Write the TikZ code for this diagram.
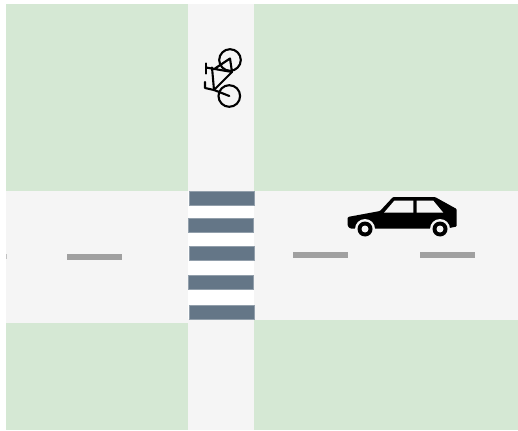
\documentclass[tikz,border=0pt]{standalone}
\definecolor{grass}{HTML}{D5E8D4}
\definecolor{road}{HTML}{F5F5F5}
\definecolor{zebra}{HTML}{647687}
\definecolor{lane}{HTML}{A0A0A0}
\tikzset{
  grassarea/.style={fill=grass,draw=none},
  roadarea/.style={fill=road,draw=none},
  zebrabar/.style={fill=zebra,draw=zebra!70!white,line width=0.5pt},
  lanemark/.style={fill=lane,draw=none},
  bikeline/.style={draw=black,line width=2.1pt,line cap=round,line join=round},
}
\begin{document}
\begin{tikzpicture}[x=1pt,y=-1pt]
\useasboundingbox (0,0) rectangle (518,430);
\fill[white] (0,0) rectangle (518,430);
% grass
\fill[grassarea] (6,4) rectangle (188,191);
\fill[grassarea] (254,4) rectangle (518,191);
\fill[grassarea] (6,323) rectangle (188,430);
\fill[grassarea] (254,320) rectangle (518,430);
% roads
\fill[roadarea] (6,191) rectangle (188,323);
\fill[roadarea] (254,191) rectangle (518,320);
\fill[roadarea] (188,4) rectangle (254,430);
% crossing
\fill[white] (188,191) rectangle (254,319);
\foreach \a/\b/\c in {189/191/205,188/218/232,189/246/260,188/275.5/289.5,189/305/319}{
  \path[zebrabar] (\a,\b) rectangle (\a+65,\c);
}
% lane marks
\fill[lanemark] (67,253.5) rectangle (122,259.5);
\fill[lanemark] (293,252) rectangle (348,258);
\fill[lanemark] (420,252) rectangle (475,258);
\fill[lane!60!road] (6,254) rectangle (7,259);
% bicycle
\begin{scope}[bikeline]
\draw (230,60) circle (10.8);
\draw (229.3,96) circle (10.8);
\draw (206,63.5) -- (206,73.5);
\draw (206,67.5) -- (232,72) -- (230,58.5) -- (215,68.5);
\draw (212,67.5) -- (214,90) -- (229.3,96);
\draw (214,90) -- (232,72);
\draw (205,82) -- (205,88) -- (214,90);
\end{scope}
% car
\fill[black,rounded corners=1pt] (347.7,217) -- (347.7,226) -- (350,228.5) -- (447,228.5) -- (456.7,226.5) -- (456.7,209) -- (435,197) -- (393,197) -- (380,211) -- cycle;
\fill[road] (384,212.7) -- (394.3,200.7) -- (413.3,200.7) -- (413.3,212.7) -- cycle;
\fill[road] (416.7,200.7) -- (433.3,200.7) -- (443.3,212.7) -- (416.7,212.7) -- cycle;
\foreach \cx in {365,440}{
  \fill[road] (\cx,229) circle (10);
  \fill[black] (\cx,229) circle (7.5);
  \fill[road] (\cx,229) circle (3.5);
}
\end{tikzpicture}
\end{document}
